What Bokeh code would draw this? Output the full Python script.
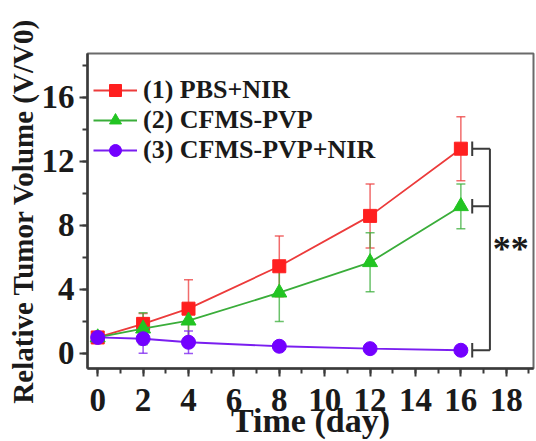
from bokeh.plotting import figure
from bokeh.models import (ColumnDataSource, Range1d, SingleIntervalTicker, Whisker,
                          TeeHead, Legend, LegendItem)
from bokeh.core.properties import value
from bokeh.embed import file_html
from bokeh.resources import INLINE

# Tumor volume over time, relative to day 0
days = [0, 2, 4, 8, 12, 16]

pbs_nir = [1.0, 1.85, 2.8, 5.45, 8.6, 12.8]
pbs_nir_err = [0.08, 0.65, 1.8, 1.9, 2.0, 2.0]

cfms_pvp = [1.0, 1.55, 2.05, 3.8, 5.7, 9.2]
cfms_pvp_err = [0.08, 1.0, 1.1, 1.8, 1.85, 1.4]

cfms_pvp_nir = [1.0, 0.92, 0.7, 0.45, 0.3, 0.2]
cfms_pvp_nir_err = [0.08, 0.9, 0.7, 0.1, 0.08, 0.08]

labels = ["(1) PBS+NIR", "(2) CFMS-PVP", "(3) CFMS-PVP+NIR"]
line_colors = ["#ec3b3b", "#3aad3a", "#7a1ef0"]
fill_colors = ["#ff1f1f", "#22c422", "#7300ff"]
markers = ["square", "triangle", "circle"]
marker_sizes = [13, 15, 14]

significance = "**"

FONT = "Liberation Serif"

p = figure(width=536, height=441, output_backend="svg", toolbar_location=None,
           x_range=Range1d(-0.45, 19.2), y_range=Range1d(-0.94, 18.75),
           min_border_left=87, min_border_right=3, min_border_top=53,
           min_border_bottom=73)
p.background_fill_color = "white"
p.border_fill_color = "white"
p.grid.visible = False
p.outline_line_color = "#6a6a6a"
p.outline_line_width = 2

p.xaxis.ticker = SingleIntervalTicker(interval=2, num_minor_ticks=2)
p.yaxis.ticker = SingleIntervalTicker(interval=4, num_minor_ticks=2)

for ax in (p.xaxis, p.yaxis):
    ax.axis_line_color = "#3a3a3a"
    ax.axis_line_width = 2.5
    ax.major_tick_line_color = "#3a3a3a"
    ax.minor_tick_line_color = "#3a3a3a"
    ax.major_tick_line_width = 2
    ax.minor_tick_line_width = 2
    ax.major_tick_out = 8
    ax.major_tick_in = 0
    ax.minor_tick_out = 5
    ax.minor_tick_in = 0
    ax.major_label_text_font = FONT
    ax.major_label_text_font_style = "bold"
    ax.major_label_text_font_size = "33px"
    ax.major_label_text_color = "#1a1a1a"
    ax.axis_label_text_font = FONT
    ax.axis_label_text_font_style = "bold"
    ax.axis_label_text_color = "#1a1a1a"

p.xaxis.axis_label = "Time (day)"
p.xaxis.axis_label_text_font_size = "34px"
p.xaxis.major_label_standoff = 12
p.xaxis.axis_label_standoff = -12

p.yaxis.axis_label = "Relative Tumor Volume (V/V0)"
p.yaxis.axis_label_text_font_size = "29px"
p.yaxis.major_label_standoff = 5
p.yaxis.axis_label_standoff = 0

series = [
    (pbs_nir, pbs_nir_err),
    (cfms_pvp, cfms_pvp_err),
    (cfms_pvp_nir, cfms_pvp_nir_err),
]

items = []
for i, (vals, errs) in enumerate(series):
    src = ColumnDataSource(dict(
        x=days, y=vals,
        lo=[v - e for v, e in zip(vals, errs)],
        hi=[v + e for v, e in zip(vals, errs)],
    ))
    w = Whisker(source=src, base="x", lower="lo", upper="hi",
                line_color=line_colors[i], line_alpha=0.75, line_width=1.5,
                upper_head=TeeHead(size=9, line_color=line_colors[i],
                                   line_alpha=0.75, line_width=1.5),
                lower_head=TeeHead(size=9, line_color=line_colors[i],
                                   line_alpha=0.75, line_width=1.5))
    p.add_layout(w)
    ln = p.line("x", "y", source=src, line_color=line_colors[i], line_width=1.8)
    mk = p.scatter("x", "y", source=src, marker=markers[i],
                   size=marker_sizes[i], fill_color=fill_colors[i],
                   line_color=fill_colors[i])
    items.append(LegendItem(label=labels[i], renderers=[ln, mk]))

# Significance bracket between the day-16 groups
last = [s[0][-1] for s in series]
x_start, x_end = 16.5, 17.28
p.segment(x0=[x_start] * 3, y0=last, x1=[x_end] * 3, y1=last,
          line_color="#3a3a3a", line_width=2)
p.segment(x0=[x_end], y0=[min(last)], x1=[x_end], y1=[max(last)],
          line_color="#3a3a3a", line_width=2)
p.segment(x0=[x_start] * 3, y0=[v - 0.45 for v in last],
          x1=[x_start] * 3, y1=[v + 0.45 for v in last],
          line_color="#3a3a3a", line_width=2)
p.text(x=[17.4], y=[6.5], text=[significance], text_font=value(FONT),
       text_font_style="bold", text_font_size="36px", text_color="#1a1a1a",
       text_baseline="alphabetic", text_align="left")

legend = Legend(items=items, location=(0, 197), padding=6, margin=0,
                spacing=0, glyph_width=44, glyph_height=30, label_standoff=6,
                label_text_font=FONT, label_text_font_style="bold",
                label_text_font_size="26px", label_text_color="#1a1a1a",
                background_fill_alpha=0, border_line_alpha=0)
p.add_layout(legend, "center")

open("out.html", "w").write(file_html(p, INLINE))
